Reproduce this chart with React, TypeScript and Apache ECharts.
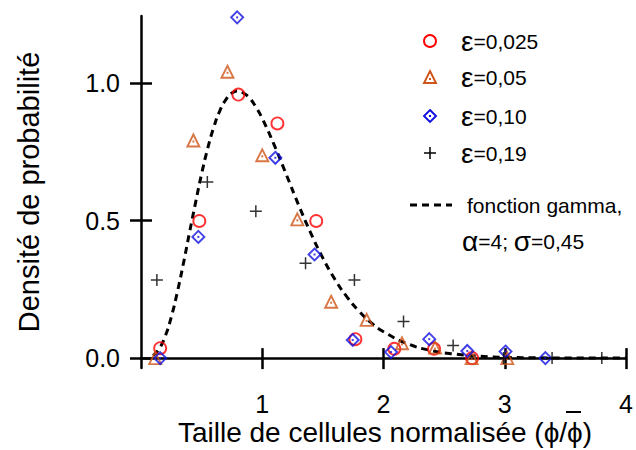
import React, { useEffect, useRef } from "react";
import * as echarts from "echarts";

// Gamma curve (α=4; σ=0,45)
const curveX = [0.1, 0.15, 0.2, 0.25, 0.3, 0.35, 0.4, 0.45, 0.5, 0.55, 0.6, 0.65, 0.7, 0.75, 0.8, 0.85, 0.9, 0.95, 1.0, 1.1, 1.2, 1.3, 1.4, 1.5, 1.6, 1.7, 1.8, 1.9, 2.0, 2.2, 2.4, 2.6, 2.8, 3.0, 3.3, 3.6, 4.0];
const curveY = [0.009, 0.034, 0.08, 0.15, 0.241, 0.345, 0.457, 0.566, 0.671, 0.763, 0.84, 0.9, 0.941, 0.965, 0.972, 0.963, 0.944, 0.912, 0.872, 0.774, 0.666, 0.557, 0.455, 0.364, 0.286, 0.222, 0.17, 0.128, 0.096, 0.052, 0.027, 0.014, 0.007, 0.003, 0.001, 0.0, 0.0];

// ε = 0,025 (red circles)
const eps025X = [0.158, 0.481, 0.803, 1.125, 1.445, 1.768, 2.089, 2.417, 2.73];
const eps025Y = [0.036, 0.499, 0.959, 0.854, 0.499, 0.069, 0.034, 0.034, 0.0];

// ε = 0,05 (orange triangles)
const eps05X = [0.117, 0.432, 0.713, 1.0, 1.289, 1.568, 1.861, 2.152, 2.425, 2.727, 3.02];
const eps05Y = [0.0, 0.792, 1.042, 0.738, 0.505, 0.205, 0.139, 0.054, 0.038, 0.0, 0.0];

// ε = 0,10 (blue diamonds)
const eps10X = [0.158, 0.473, 0.793, 1.108, 1.431, 1.746, 2.062, 2.377, 2.691, 3.006, 3.335];
const eps10Y = [0.0, 0.441, 1.24, 0.729, 0.377, 0.066, 0.022, 0.069, 0.026, 0.024, 0.0];

// ε = 0,19 (black plus)
const eps19X = [0.131, 0.547, 0.947, 1.357, 1.76, 2.165, 2.574, 2.99, 3.39, 3.8];
const eps19Y = [0.284, 0.641, 0.534, 0.345, 0.284, 0.133, 0.046, 0.0, 0.0, 0.0];

const xTicks = [1, 2, 3, 4];
const yTicks = [0, 0.5, 1.0];

const legendValues = ["=0,025", "=0,05", "=0,10", "=0,19"];
const legendLabels = legendValues.map((v) => "ε" + v);
const curveLabel1 = "fonction gamma,";
const xTitle = "Taille de cellules normalisée (ϕ/ϕ)";
const yTitle = "Densité de probabilité";

const RED = "#ff0000";
const ORANGE = "#cf5418";
const BLUE = "#1010e0";
const FONT = "'Liberation Sans', Arial, sans-serif";

const pairs = (xs: number[], ys: number[]) => xs.map((x, i) => [x, ys[i]]);

export default function App() {
  const ref = useRef<HTMLDivElement>(null);
  useEffect(() => {
    if (!ref.current) return;
    const chart = echarts.init(ref.current, null, { renderer: "svg" });
    const hollow = (c: string) => ({ color: "rgba(0,0,0,0)", borderColor: c, borderWidth: 1.9 });
    const axisBase = {
      type: "value" as const,
      splitLine: { show: false },
    };
    const greek = { g: { fontSize: 28, fontFamily: FONT, fill: "#000" } };
    const legendX = 430;
    const legendYs = [41, 77, 116, 153];
    const option: any = {
      animation: false,
      backgroundColor: "#fff",
      grid: { left: 141, right: 8, top: 16, bottom: 82, containLabel: false },
      xAxis: [
        {
          ...axisBase,
          min: 0,
          max: 4,
          position: "bottom",
          axisLine: { show: true, lineStyle: { color: "#000", width: 2.5 } },
          axisTick: { show: true, customValues: xTicks, length: 11, lineStyle: { color: "#000", width: 2.5 } },
          axisLabel: { customValues: xTicks, fontSize: 25, lineHeight: 20, color: "#000", fontFamily: FONT, margin: 26 },
        },
        {
          ...axisBase,
          min: 0,
          max: 4,
          position: "bottom",
          axisLine: { show: false },
          axisTick: { show: true, inside: true, customValues: xTicks, length: 10, lineStyle: { color: "#000", width: 2.5 } },
          axisLabel: { show: false },
        },
      ],
      yAxis: [
        {
          ...axisBase,
          min: -0.036,
          max: 1.245,
          position: "left",
          axisLine: { show: true, lineStyle: { color: "#000", width: 2.5 } },
          axisTick: { show: true, customValues: yTicks, length: 11, lineStyle: { color: "#000", width: 2.5 } },
          axisLabel: {
            customValues: yTicks,
            fontSize: 25,
            color: "#000",
            fontFamily: FONT,
            margin: 21,
            formatter: (v: number) => v.toFixed(1),
          },
        },
        {
          ...axisBase,
          min: -0.036,
          max: 1.245,
          position: "left",
          axisLine: { show: false },
          axisTick: { show: true, inside: true, customValues: yTicks, length: 11, lineStyle: { color: "#000", width: 2.5 } },
          axisLabel: { show: false },
        },
      ],
      series: [
        {
          name: "gamma",
          type: "line",
          data: pairs(curveX, curveY),
          smooth: true,
          symbol: "none",
          lineStyle: { color: "#000", width: 3, type: [7, 5] },
          z: 1,
        },
        {
          name: legendLabels[0],
          type: "scatter",
          data: pairs(eps025X, eps025Y),
          symbol: "circle",
          symbolSize: 12,
          itemStyle: hollow(RED),
          z: 3,
        },
        {
          name: legendLabels[1],
          type: "scatter",
          data: pairs(eps05X, eps05Y),
          symbol: "triangle",
          symbolSize: 12,
          itemStyle: hollow(ORANGE),
          z: 3,
        },
        {
          name: legendLabels[1] + " dot",
          type: "scatter",
          data: pairs(eps05X, eps05Y),
          symbol: "rect",
          symbolSize: 2,
          symbolOffset: [0, 1],
          itemStyle: { color: ORANGE },
          z: 3,
        },
        {
          name: legendLabels[2],
          type: "scatter",
          data: pairs(eps10X, eps10Y),
          symbol: "diamond",
          symbolSize: 12,
          itemStyle: hollow(BLUE),
          z: 3,
        },
        {
          name: legendLabels[2] + " dot",
          type: "scatter",
          data: pairs(eps10X, eps10Y),
          symbol: "rect",
          symbolSize: 2,
          itemStyle: { color: BLUE },
          z: 3,
        },
        {
          name: legendLabels[3],
          type: "scatter",
          data: pairs(eps19X, eps19Y),
          symbol: "path://M5,0L5,10M0,5L10,5",
          symbolSize: 12,
          itemStyle: { color: "rgba(0,0,0,0)", borderColor: "#000", borderWidth: 1.5 },
          z: 3,
        },
      ],
      graphic: [
        // axis titles
        {
          type: "text",
          x: 385,
          y: 432,
          style: { text: xTitle, fontSize: 28, lineHeight: 24, fontFamily: FONT, fill: "#000", align: "center", verticalAlign: "middle" },
        },
        {
          type: "rect",
          shape: { x: 566, y: 411, width: 15, height: 2 },
          style: { fill: "#000" },
        },
        {
          type: "text",
          x: 29,
          y: 192,
          rotation: Math.PI / 2,
          style: { text: yTitle, fontSize: 29, fontFamily: FONT, fill: "#000", align: "center", verticalAlign: "middle" },
        },
        // legend markers
        { type: "circle", shape: { cx: legendX, cy: legendYs[0], r: 6 }, style: { fill: "none", stroke: RED, lineWidth: 1.9 } },
        {
          type: "polygon",
          shape: { points: [[legendX, legendYs[1] - 6], [legendX + 6, legendYs[1] + 6], [legendX - 6, legendYs[1] + 6]] },
          style: { fill: "none", stroke: ORANGE, lineWidth: 1.9 },
        },
        { type: "rect", shape: { x: legendX - 1, y: legendYs[1] + 1, width: 2, height: 2 }, style: { fill: ORANGE } },
        {
          type: "polygon",
          shape: { points: [[legendX, legendYs[2] - 6], [legendX + 6, legendYs[2]], [legendX, legendYs[2] + 6], [legendX - 6, legendYs[2]]] },
          style: { fill: "none", stroke: BLUE, lineWidth: 1.9 },
        },
        { type: "rect", shape: { x: legendX - 1, y: legendYs[2] - 1, width: 2, height: 2 }, style: { fill: BLUE } },
        { type: "line", shape: { x1: legendX - 6, y1: legendYs[3], x2: legendX + 6, y2: legendYs[3] }, style: { stroke: "#000", lineWidth: 1.5 } },
        { type: "line", shape: { x1: legendX, y1: legendYs[3] - 6, x2: legendX, y2: legendYs[3] + 6 }, style: { stroke: "#000", lineWidth: 1.5 } },
        ...legendValues.map((t, i) => ({
          type: "text",
          x: 461,
          y: legendYs[i],
          style: { text: "{g|ε}" + t, rich: greek, fontSize: 21, fontFamily: FONT, fill: "#000", verticalAlign: "middle" },
        })),
        {
          type: "line",
          shape: { x1: 410, y1: 205, x2: 452, y2: 205 },
          style: { stroke: "#000", lineWidth: 3, lineDash: [7, 5] },
        },
        {
          type: "text",
          x: 467,
          y: 205,
          style: { text: curveLabel1, fontSize: 21, fontFamily: FONT, fill: "#000", verticalAlign: "middle" },
        },
        {
          type: "text",
          x: 462,
          y: 241,
          style: { text: "{g|α}=4; {g|σ}=0,45", rich: greek, fontSize: 21, fontFamily: FONT, fill: "#000", verticalAlign: "middle" },
        },
      ],
    };
    chart.setOption(option);
    return () => chart.dispose();
  }, []);
  return (
    <div
      ref={ref}
      style={{ position: "fixed", left: 0, top: 0, width: 636, height: 450, background: "#fff" }}
    />
  );
}
